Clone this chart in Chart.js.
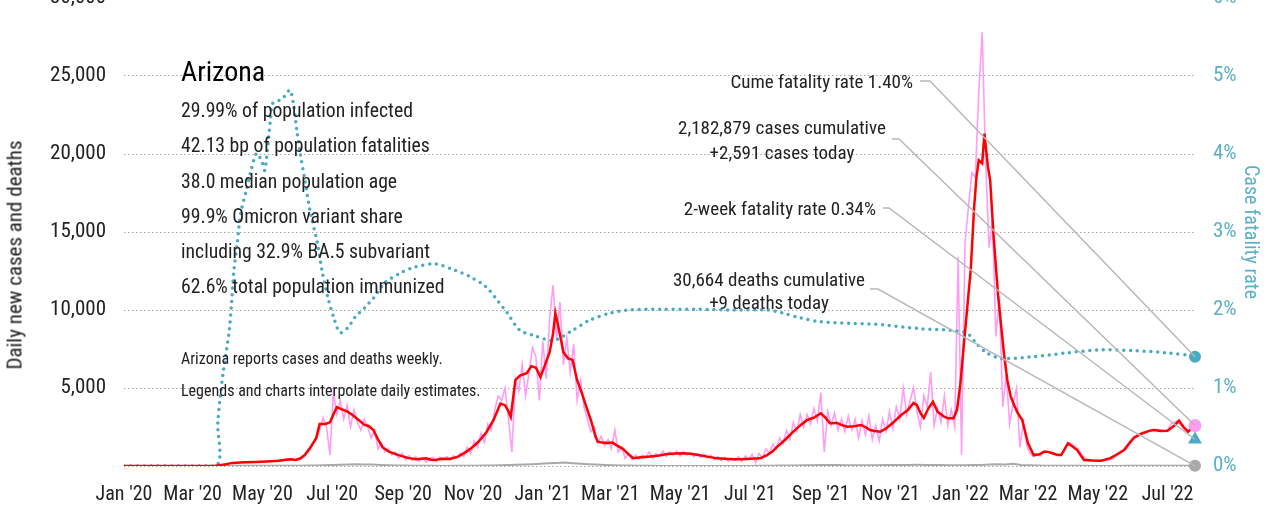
<!DOCTYPE html>
<html lang="en">
<head>
<meta charset="UTF-8">
<title>Arizona</title>
<script src="https://cdn.jsdelivr.net/npm/chart.js@4.4.1/dist/chart.umd.min.js"></script>
<style>
    html, body { margin: 0; padding: 0; background: #fff; }
    body {
        width: 1281px; height: 508px; overflow: hidden; position: relative;
        font-family: "Roboto Condensed", "Open Sans", sans-serif;
        color: #222;
    }
    #chart { position: absolute; left: 0; top: -16px; }
    .t { position: absolute; white-space: nowrap; }
    .title { left: 181px; top: 58px; font-size: 28px; line-height: 28px; color: #000; }
    .stat { left: 181px; font-size: 19.7px; line-height: 19.7px; }
    .note { left: 181px; font-size: 16px; line-height: 16px; }
    .ann { font-size: 19px; line-height: 19px; }
    .ann2 { font-size: 19px; text-align: center; width: 400px; }
    .axis-left {
        left: 15px; top: 255px; font-size: 21px; line-height: 21px;
        transform: translate(-50%, -50%) rotate(-90deg);
    }
    .axis-right {
        left: 1252px; top: 232px; font-size: 20px; line-height: 20px; color: #5bb0c8;
        transform: translate(-50%, -50%) rotate(90deg);
    }
</style>
</head>
<body>
<canvas id="chart" width="1281" height="522"></canvas>

<div class="t title">Arizona</div>
<div class="t stat" style="top:101px">29.99% of population infected</div>
<div class="t stat" style="top:136px">42.13 bp of population fatalities</div>
<div class="t stat" style="top:172px">38.0 median population age</div>
<div class="t stat" style="top:207px">99.9% Omicron variant share</div>
<div class="t stat" style="top:242px">including 32.9% BA.5 subvariant</div>
<div class="t stat" style="top:277px">62.6% total population immunized</div>

<div class="t note" style="top:351px">Arizona reports cases and deaths weekly.</div>
<div class="t note" style="top:383px">Legends and charts interpolate daily estimates.</div>

<div class="t ann" style="right:368px; top:71.5px">Cume fatality rate 1.40%</div>
<div class="t ann2" style="left:582px; top:116px; line-height:24.5px">2,182,879 cases cumulative<br>+2,591 cases today</div>
<div class="t ann" style="right:405px; top:199px">2-week fatality rate 0.34%</div>
<div class="t ann2" style="left:569px; top:268px; line-height:23px">30,664 deaths cumulative<br>+9 deaths today</div>

<div class="t axis-left">Daily new cases and deaths</div>
<div class="t axis-right">Case fatality rate</div>

<script>
// x axis: days since Jan 1 2020
const tickDays = [0, 60, 121, 182, 244, 305, 366, 425, 486, 547, 609, 670, 731, 790, 851, 912];
const tickLabels = ["Jan '20", "Mar '20", "May '20", "Jul '20", "Sep '20", "Nov '20",
    "Jan '21", "Mar '21", "May '21", "Jul '21", "Sep '21", "Nov '21",
    "Jan '22", "Mar '22", "May '22", "Jul '22"];
const lastDay = 936;

const caseTicks = [0, 5000, 10000, 15000, 20000, 25000, 30000];
const rateTicks = [0, 1, 2, 3, 4, 5, 6];

// daily new cases, one value every 3 days
const dailyStep = 3;
const dailyCases = [
    0, 0, 0, 0, 0, 0, 0, 0, 0, 0,
    0, 0, 0, 0, 0, 0, 0, 0, 0, 0,
    0, 0, 0, 0, 2, 5, 10, 25, 60, 100,
    140, 190, 200, 180, 240, 210, 250, 230, 270, 250,
    300, 260, 320, 290, 340, 330, 380, 420, 460, 420,
    370, 520, 600, 800, 1000, 1400, 1700, 2300, 3100, 2500,
    700, 4700, 3300, 4200, 3000, 3900, 2500, 3600, 2800, 2300,
    3000, 2500, 1800, 2300, 1100, 1500, 900, 1100, 700, 900,
    500, 800, 400, 650, 350, 600, 300, 550, 250, 500,
    550, 300, 550, 400, 600, 450, 650, 500, 800, 600,
    1200, 800, 1600, 1200, 2100, 1500, 2700, 2300, 3600, 4500,
    4200, 5000, 3000, 900, 5600, 4800, 6500, 4500, 6000, 7600,
    7000, 4200, 8000, 5600, 9500, 11600, 8200, 10500, 6500, 8200,
    6000, 7800, 4200, 5500, 3800, 3000, 2200, 2500, 1500, 1900,
    1300, 1700, 1100, 2300, 900, 1200, 500, 800, 400, 700,
    450, 700, 600, 900, 500, 800, 650, 950, 600, 900,
    700, 950, 650, 900, 700, 850, 600, 800, 550, 750,
    500, 700, 400, 600, 350, 550, 300, 500, 350, 600,
    300, 650, 400, 750, 200, 800, 500, 1100, 800, 1400,
    1100, 1800, 1400, 2300, 1700, 2800, 2200, 3300, 2500, 3300,
    2700, 3700, 2900, 4700, 900, 3500, 2600, 3400, 2300, 3000,
    2200, 3200, 2300, 3000, 1800, 2900, 2000, 3200, 1700, 2600,
    1600, 3000, 2200, 3500, 2400, 3800, 3000, 5000, 3300, 4200,
    5000, 3500, 2500, 4500, 3800, 6000, 2600, 3700, 2800, 4500,
    2600, 3600, 2500, 13400, 700, 14300, 16600, 18800, 18500, 23900,
    27800, 19600, 14000, 15800, 8300, 10800, 3800, 5900, 2700, 4000,
    5000, 1200, 2800, 1300, 800, 600, 700, 650, 950, 900,
    850, 800, 750, 700, 1000, 1500, 1450, 1200, 1100, 700,
    500, 400, 380, 350, 330, 340, 360, 400, 450, 650,
    800, 1000, 1100, 1400, 1700, 1850, 2000, 2100, 2200, 2300,
    2300, 2350, 2300, 2250, 2300, 2700, 2800, 2900, 2600, 2300,
    2200, 2400, 2591
];

// 7-day average of cases
const avgDays = [
    0, 70, 80, 88, 95, 105, 115, 125, 135, 142, 146, 150, 154, 158, 163, 168, 171, 176, 180, 183,
    186, 190, 195, 200, 205, 210, 214, 218, 222, 226, 232, 240, 248, 255, 260, 264, 268, 272, 278, 285,
    292, 300, 306, 311, 317, 323, 329, 333, 336, 338, 342, 346, 352, 356, 360, 364, 368, 372, 375, 377,
    380, 384, 388, 392, 396, 400, 404, 408, 412, 414, 418, 422, 427, 431, 436, 441, 445, 450, 458, 466,
    475, 482, 489, 495, 502, 510, 518, 525, 533, 540, 548, 556, 562, 567, 571, 578, 585, 591, 597, 603,
    609, 613, 617, 623, 628, 632, 638, 644, 648, 652, 656, 661, 666, 673, 679, 685, 690, 693, 696, 699,
    703, 707, 711, 716, 720, 725, 728, 731, 734, 736, 738, 740, 743, 745, 747, 750, 752, 755, 757, 760,
    764, 769, 772, 775, 778, 781, 785, 790, 795, 800, 804, 807, 812, 816, 819, 825, 829, 833, 839, 846,
    854, 862, 868, 874, 879, 883, 890, 896, 900, 906, 912, 918, 922, 926, 930, 933, 936
];
const avgCases = [
    0, 0, 20, 100, 200, 240, 260, 290, 330, 400, 430, 390, 480, 700, 1200, 1800, 2700, 2700, 2800, 3300,
    3780, 3650, 3500, 3250, 2950, 2650, 2550, 2300, 1700, 1200, 900, 700, 520, 430, 470, 500, 400, 380, 470, 450,
    600, 950, 1300, 1650, 2200, 2950, 4000, 3900, 3500, 3150, 5500, 5800, 5950, 6400, 6300, 5700, 6500, 7300, 8500, 9800,
    8800, 7300, 6900, 6800, 5500, 4700, 3800, 2950, 1900, 1560, 1500, 1470, 1500, 1300, 1100, 750, 500, 550, 600, 650,
    770, 800, 810, 780, 700, 600, 490, 460, 430, 440, 470, 490, 700, 950, 1240, 1700, 2200, 2600, 2950, 3100,
    3380, 3100, 2740, 2760, 2600, 2520, 2550, 2630, 2500, 2310, 2250, 2200, 2400, 2840, 3250, 3590, 4040, 3900, 3400, 3080,
    3700, 4120, 3480, 3200, 3060, 3060, 3600, 5300, 7800, 9360, 11000, 12560, 16620, 18500, 19600, 19400, 21300, 19200, 18300, 14700,
    10850, 7240, 5500, 4440, 3900, 3400, 2950, 1470, 700, 750, 920, 920, 800, 700, 700, 1450, 1250, 1025, 385, 350,
    340, 500, 750, 1025, 1500, 1840, 2100, 2250, 2310, 2250, 2260, 2600, 2900, 2500, 2200, 2400, 2591
];

// daily deaths, one value every 7 days
const deathStep = 7;
const dailyDeaths = [
    0, 0, 0, 0, 0, 0, 0, 0, 0, 0, 0, 1, 3,
    6, 10, 15, 15, 12, 14, 16, 18,
    18, 20, 25, 35, 50, 65, 80, 95, 110, 100,
    90, 70, 50, 35, 25, 20, 15, 12, 10, 8,
    10, 12, 14, 18, 25, 35, 45, 60, 80, 100,
    120, 150, 180, 200, 220, 180, 150, 120, 90, 70,
    50, 35, 25, 15, 12, 10, 8, 8, 7, 6,
    6, 5, 5, 5, 5, 5, 6, 8, 10, 15,
    20, 25, 30, 40, 50, 55, 60, 65, 60, 55,
    55, 50, 50, 55, 60, 65, 70, 70, 75, 70,
    65, 60, 55, 50, 50, 60, 70, 90, 110, 100,
    150, 60, 45, 30, 20, 15, 12, 10, 10, 10,
    8, 8, 8, 8, 10, 10, 12, 12, 12, 12, 12, 12, 12
];

// case fatality rate, %
const cfrDays = [
    0, 80, 82, 84, 87, 92, 94, 96, 99, 102, 107, 111, 116, 121, 123, 125, 128, 130, 136, 141,
    145, 148, 151, 154, 158, 163, 169, 173, 178, 184, 189, 196, 202, 211, 219, 228, 241, 254, 272, 289,
    302, 316, 326, 335, 346, 357, 375, 390, 407, 425, 440, 470, 500, 532, 562, 576, 591, 608, 635, 663,
    696, 722, 737, 745, 754, 766, 794, 824, 853, 882, 912, 936
];
const cfrPct = [
    0, 0, 0.55, 0.88, 1.23, 1.74, 2.09, 2.5, 2.86, 3.24, 3.54, 3.79, 4.01, 3.88, 3.79, 4.01, 4.44, 4.65, 4.69, 4.75,
    4.82, 4.65, 4.31, 4.01, 3.67, 3.24, 2.86, 2.51, 2.17, 1.87, 1.71, 1.78, 1.91, 2.04, 2.17, 2.35, 2.47, 2.55, 2.59, 2.51,
    2.43, 2.3, 2.13, 1.96, 1.74, 1.68, 1.61, 1.72, 1.87, 1.96, 2.0, 2.01, 2.01, 2.0, 2.0, 1.96, 1.9, 1.85, 1.83, 1.81,
    1.76, 1.74, 1.7, 1.57, 1.45, 1.38, 1.4, 1.45, 1.49, 1.48, 1.45, 1.41
];

// latest values (end markers)
const casesToday = 2591;
const deathsToday = 9;
const cumeCfr = 1.40;
const twoWeekCfr = 0.34;

const FONT = '"Roboto Condensed", "Open Sans", sans-serif';
const TEAL = '#4aa9c3';
const PINK = '#ff9cf6';
const RED = '#ff0000';
const GRAY = '#a9a9a9';
const PLOT_TOP = -2; // page y of the 6% / 30,000 line

// leader lines from the annotation texts (page coords) to the end markers
const leaders = [
    { x0: 920, x1: 930, y: 81, ds: 0 },
    { x0: 892, x1: 899, y: 139, ds: 1 },
    { x0: 883, x1: 889, y: 208, ds: 2 },
    { x0: 870, x1: 878, y: 289, ds: 3 }
];

// keep the plot top just above the page, whatever padding Chart.js picked
const shiftPlugin = {
    id: 'shift',
    afterLayout(chart) {
        chart.canvas.style.top = (PLOT_TOP - chart.chartArea.top) + 'px';
    }
};

const leaderPlugin = {
    id: 'leaders',
    afterDatasetsDraw(chart) {
        const shift = chart.chartArea.top - PLOT_TOP;
        const ctx = chart.ctx;
        ctx.save();
        ctx.strokeStyle = '#b8b8b8';
        ctx.lineWidth = 1.5;
        leaders.forEach(l => {
            const pt = chart.getDatasetMeta(l.ds).data[0];
            ctx.beginPath();
            ctx.moveTo(l.x0, l.y + shift);
            ctx.lineTo(l.x1, l.y + shift);
            ctx.lineTo(pt.x, pt.y);
            ctx.stroke();
        });
        ctx.restore();
    }
};

const dailyData = dailyCases.map((v, i) => ({ x: i * dailyStep, y: v }));
const avgData = avgDays.map((d, i) => ({ x: d, y: avgCases[i] }));
const deathData = dailyDeaths.map((v, i) => ({ x: i * deathStep, y: v }))
    .concat([{ x: lastDay, y: deathsToday }]);
const cfrData = cfrDays.map((d, i) => ({ x: d, y: cfrPct[i] }));

const ctx = document.getElementById('chart').getContext('2d');
new Chart(ctx, {
    type: 'line',
    data: {
        datasets: [
            {
                label: 'Cume fatality rate', data: [{ x: lastDay, y: cumeCfr }], yAxisID: 'y1',
                showLine: false, pointRadius: 6, pointBackgroundColor: TEAL, pointBorderWidth: 0,
                clip: false, order: 0
            },
            {
                label: 'Cases today', data: [{ x: lastDay, y: casesToday }], yAxisID: 'y',
                showLine: false, pointRadius: 6.5, pointBackgroundColor: PINK, pointBorderWidth: 0,
                clip: false, order: 0
            },
            {
                label: '2-week fatality rate', data: [{ x: lastDay, y: twoWeekCfr }], yAxisID: 'y1',
                showLine: false, pointStyle: 'triangle', pointRadius: 8, pointBackgroundColor: TEAL,
                pointBorderWidth: 0, clip: false, order: 0
            },
            {
                label: 'Deaths today', data: [{ x: lastDay, y: deathsToday }], yAxisID: 'y',
                showLine: false, pointRadius: 6, pointBackgroundColor: GRAY, pointBorderWidth: 0,
                clip: false, order: 0
            },
            {
                label: '7-day average', data: avgData, yAxisID: 'y',
                borderColor: RED, borderWidth: 2.5, pointRadius: 0, tension: 0, order: 1
            },
            {
                label: 'Case fatality rate', data: cfrData, yAxisID: 'y1',
                borderColor: TEAL, borderWidth: 3.5, borderDash: [0, 6.8], borderCapStyle: 'round',
                pointRadius: 0, tension: 0.3, order: 2
            },
            {
                label: 'Daily deaths', data: deathData, yAxisID: 'y',
                borderColor: GRAY, borderWidth: 2, pointRadius: 0, order: 3
            },
            {
                label: 'Daily cases', data: dailyData, yAxisID: 'y',
                borderColor: PINK, borderWidth: 1.6, pointRadius: 0, order: 4
            }
        ]
    },
    options: {
        responsive: false,
        animation: false,
        events: [],
        layout: { padding: { top: 14, left: 0, right: 0, bottom: 0 } },
        plugins: { legend: { display: false }, tooltip: { enabled: false } },
        scales: {
            x: {
                type: 'linear',
                min: 0,
                max: lastDay,
                afterBuildTicks: s => { s.ticks = tickDays.map(v => ({ value: v })); },
                afterFit: s => { s.height = 40; s.paddingLeft = 0; s.paddingRight = 0; },
                grid: { display: false },
                border: { display: false },
                ticks: {
                    autoSkip: false, maxRotation: 0, padding: 9,
                    color: '#222', font: { family: FONT, size: 20 },
                    callback: (v, i) => tickLabels[i]
                }
            },
            y: {
                position: 'left',
                min: 0,
                max: 30000,
                afterBuildTicks: s => { s.ticks = caseTicks.map(v => ({ value: v })); },
                afterFit: s => { s.width = 124; s.paddingTop = 0; s.paddingBottom = 0; },
                grid: { color: '#a6a6a6', lineWidth: 1, drawTicks: false },
                border: { display: false, dash: [1.5, 2.5] },
                ticks: {
                    padding: 18, color: '#222', font: { family: FONT, size: 21 },
                    callback: v => v === 0 ? '' : v.toLocaleString('en-US')
                }
            },
            y1: {
                position: 'right',
                min: 0,
                max: 6,
                afterBuildTicks: s => { s.ticks = rateTicks.map(v => ({ value: v })); },
                afterFit: s => { s.width = 86; s.paddingTop = 0; s.paddingBottom = 0; },
                grid: { display: false, drawTicks: false },
                border: { display: false },
                ticks: {
                    padding: 18, color: '#5bb0c8', font: { family: FONT, size: 21 },
                    callback: v => v + '%'
                }
            }
        }
    },
    plugins: [shiftPlugin, leaderPlugin]
});
</script>
</body>
</html>
